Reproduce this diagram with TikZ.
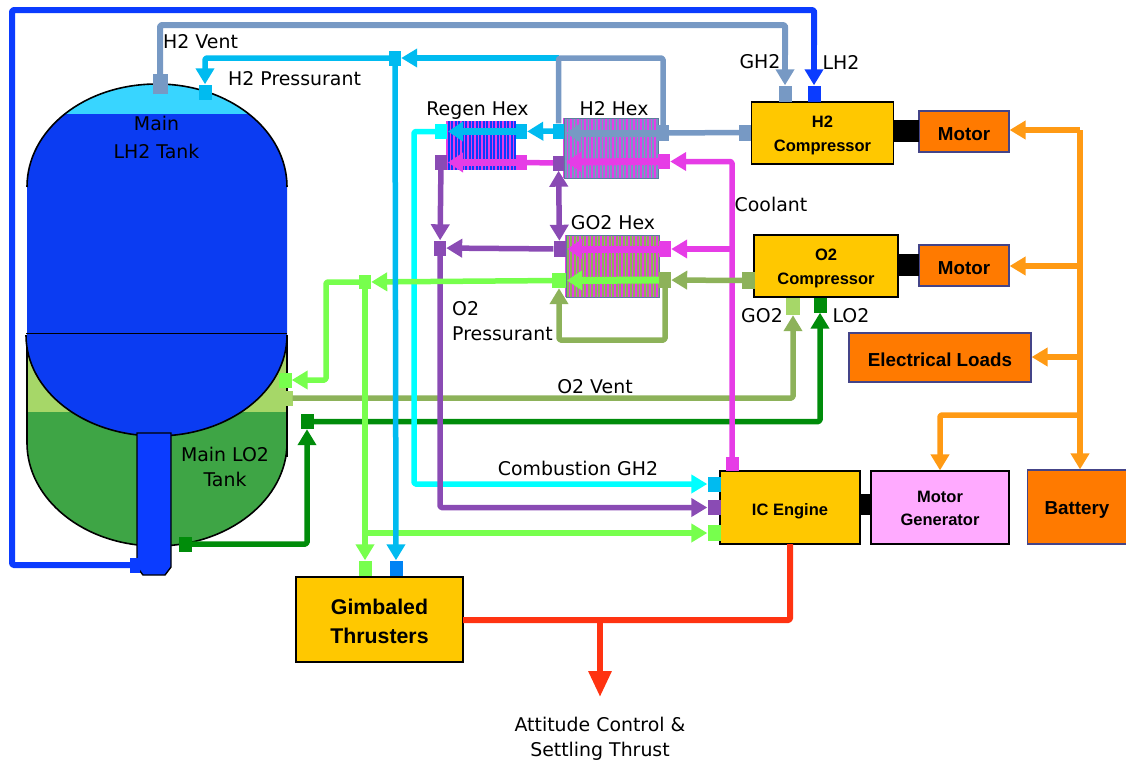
\documentclass[tikz,border=0pt]{standalone}
\usepackage{fontspec}
\setmainfont{DejaVu Sans}
\setsansfont{Liberation Sans}
\usetikzlibrary{arrows.meta}
\definecolor{tankblue}{HTML}{0B3CF2}
\definecolor{gastop}{HTML}{38D5FF}
\definecolor{logreen}{HTML}{3EA545}
\definecolor{lolight}{HTML}{A6D768}
\definecolor{lh}{HTML}{0B3CFF}
\definecolor{gh}{HTML}{7799C4}
\definecolor{hp}{HTML}{00BBF0}
\definecolor{cy}{HTML}{00FFFF}
\definecolor{mg}{HTML}{E63CE6}
\definecolor{pu}{HTML}{8A4BB4}
\definecolor{brg}{HTML}{77FF4D}
\definecolor{og}{HTML}{8DB25A}
\definecolor{dg}{HTML}{008C0A}
\definecolor{orb}{HTML}{FFC800}
\definecolor{ormot}{HTML}{FF7A00}
\definecolor{orl}{HTML}{FF9A14}
\definecolor{redl}{HTML}{FF3311}
\definecolor{pinkb}{HTML}{FFAAFF}
\definecolor{edgeb}{HTML}{444488}
\tikzset{
  pipe/.style={line width=5.5pt,line join=round,rounded corners=1.5pt},
  tip/.style={-{Triangle[width=18pt,length=16pt]}},
  innertip/.style={line width=7pt,-{Triangle[width=19pt,length=15pt]}},
  port/.style={inner sep=0pt,minimum width=12pt,minimum height=15pt,fill=#1},
  yellowbox/.style={draw=black,line width=1.6pt,fill=orb,inner sep=0pt,font=\sffamily\bfseries\fontsize{16.5}{24}\selectfont,align=center},
  orangebox/.style={draw=edgeb,line width=1.2pt,fill=ormot,inner sep=0pt,font=\sffamily\bfseries\fontsize{18.8}{22}\selectfont,align=center},
  label/.style={inner sep=0pt,font=\fontsize{18.9}{25}\selectfont,align=center,text=black},
  shaft/.style={fill=black,inner sep=0pt}
}
\newcommand{\lift}[1]{\rule{0pt}{#1pt}}
\newcommand{\stripes}[7]{% x0 y0 x1 y1 background stripe second-x
  \fill[#5] (#1,#2) rectangle (#3,#4);
  \foreach \sx in {#1,#7,...,#3} \draw[#6,line width=1.7pt] (\sx,#2) -- (\sx,#4);
}
\begin{document}
\begin{tikzpicture}[x=1pt,y=-1pt]
\useasboundingbox (0,0) rectangle (1126,761);
% tanks
\path[fill=logreen] (27,335) -- (27,443) .. controls (27,499) and (84,546) .. (156.5,546) .. controls (229,546) and (287,499) .. (287,443) -- (287,335) -- cycle;
\fill[lolight] (27,335) rectangle (287,412);
\draw[black,line width=1.6pt] (27,335) -- (27,443) .. controls (27,499) and (84,546) .. (156.5,546) .. controls (229,546) and (287,499) .. (287,443);
\draw[black,line width=1.6pt] (287,335) -- (287,457);
\path[fill=tankblue] (27,335) -- (27,187) .. controls (27,130) and (84,84) .. (157,84) .. controls (229,84) and (287,130) .. (287,187) -- (287,335) .. controls (287,391) and (229,436) .. (156.5,436) .. controls (84,436) and (26,391) .. (26,335) -- cycle;
\begin{scope}
\clip (27,187) .. controls (27,130) and (84,84) .. (157,84) .. controls (229,84) and (287,130) .. (287,187) -- cycle;
\fill[gastop] (20,80) rectangle (290,114);
\end{scope}
\draw[black,line width=1.6pt] (27,187) .. controls (27,130) and (84,84) .. (157,84) .. controls (229,84) and (287,130) .. (287,187);
\draw[black,line width=1.6pt] (287,335) .. controls (287,391) and (229,436) .. (156.5,436) .. controls (84,436) and (26,391) .. (26,335);
\draw[black,line width=.8pt] (26,333) -- (287,333);
\path[fill=lh,draw=black,line width=1.4pt] (137,433) -- (171,433) -- (171,567) -- (165,575) -- (143,575) -- (137,567) -- cycle;
% boxes
\node[yellowbox,minimum width=142pt,minimum height=62pt] (h2c) at (822.5,133) {\lift{16}H2\\Compressor};
\node[yellowbox,minimum width=144pt,minimum height=62pt] (o2c) at (826,266) {\lift{16}O2\\Compressor};
\node[orangebox,minimum width=90pt,minimum height=41pt] (m1) at (964,131.5) {\lift{18}Motor};
\node[orangebox,minimum width=90pt,minimum height=41pt] (m2) at (964,265.5) {\lift{18}Motor};
\node[orangebox,minimum width=182pt,minimum height=49pt] (el) at (940,357.5) {\lift{18}Electrical Loads};
\node[orangebox,minimum width=99pt,minimum height=74pt] (bat) at (1077,507) {\lift{19.5}Battery};
\node[yellowbox,minimum width=140pt,minimum height=73pt] (ic) at (790,507.5) {\lift{19}IC Engine};
\node[draw=black,line width=1.2pt,fill=pinkb,inner sep=0pt,minimum width=138pt,minimum height=73pt,align=center,font=\sffamily\bfseries\fontsize{16.5}{23}\selectfont] (mg) at (940,507.5) {\lift{14}Motor\\Generator};
\node[yellowbox,minimum width=167pt,minimum height=85pt,font=\sffamily\bfseries\fontsize{21.3}{29}\selectfont] (gt) at (379.5,619.5) {\lift{19.5}Gimbaled\\Thrusters};
\node[shaft,minimum width=25pt,minimum height=22pt] (s1) at (906.5,131) {};
\node[shaft,minimum width=21pt,minimum height=22pt] (s2) at (908.5,265) {};
\node[shaft,minimum width=11pt,minimum height=21pt] (s3) at (865.5,504.5) {};
% heat exchangers
\stripes{447}{121}{516}{170}{lh}{mg}{450.5}
\stripes{564}{118}{658}{178}{gh}{mg}{567.5}
\stripes{566}{235}{659}{297}{og}{mg}{569.5}
\draw[gh!80!black,line width=.5pt] (564,118) rectangle (658,178);
\draw[gh!80!black,line width=.5pt] (566,235) rectangle (659,297);
% ports
\node[port=gh,minimum height=20pt,minimum width=15pt] (pv) at (160,84) {};
\node[port=hp,minimum height=15pt,minimum width=13pt] (pp) at (205,92) {};
\node[port=lh,minimum width=10pt] (psu) at (135,565) {};
\node[port=hp,minimum width=12pt] (pj) at (395,58) {};
\node[port=gh,minimum width=13pt,minimum height=16pt] (pgh) at (785,93.5) {};
\node[port=lh,minimum width=13pt,minimum height=16pt] (plh) at (814,93.5) {};
\node[port=gh,minimum width=12pt,minimum height=16pt] (pcl) at (745,132.5) {};
\node[port=gh,minimum width=11pt,minimum height=16pt] (phr) at (663,133) {};
\node[port=hp,minimum width=11pt] (phl) at (558.5,131) {};
\node[port=hp,minimum width=11pt] (prr) at (521.5,131.5) {};
\node[port=cy,minimum width=12pt] (prl) at (441,131.5) {};
\node[port=mg,minimum width=12pt] (pcr) at (664,161.5) {};
\node[port=pu,minimum width=11pt] (pcm) at (558.5,163) {};
\node[port=mg,minimum width=11pt] (pmr) at (521.5,162.5) {};
\node[port=pu,minimum width=12pt] (pml) at (441,162.5) {};
\node[port=pu,minimum width=12pt,minimum height=16pt] (pgl) at (559.5,249) {};
\node[port=pu,minimum width=12pt,minimum height=15pt] (pgw) at (440,248) {};
\node[port=mg,minimum width=12pt,minimum height=16pt] (pgc) at (665,249) {};
\node[port=og,minimum width=13pt,minimum height=17pt] (poc) at (748.5,280.5) {};
\node[port=og,minimum width=12pt,minimum height=16pt] (por) at (665,280) {};
\node[port=brg,minimum width=14pt] (pol) at (559,280.5) {};
\node[port=brg,minimum width=12pt,minimum height=14pt] (pgj) at (365,282) {};
\node[port=brg,minimum width=13pt] (ptb) at (285,380) {};
\node[port=lolight,minimum width=13pt] (pvt) at (286,398) {};
\node[port=lolight,minimum width=14pt,minimum height=17pt] (pvc) at (793,306.5) {};
\node[port=dg,minimum width=13pt] (plc) at (820,305) {};
\node[port=dg,minimum width=13pt,minimum height=15pt] (plt) at (185,544) {};
\node[port=dg,minimum width=13pt,minimum height=15pt] (pla) at (307,421.5) {};
\node[port=mg,minimum width=13pt,minimum height=14pt] (pic) at (732,464) {};
\node[port=hp,minimum width=13pt,minimum height=15pt] (pi1) at (714,484) {};
\node[port=pu,minimum width=13pt,minimum height=15pt] (pi2) at (714,507.5) {};
\node[port=brg,minimum width=13pt,minimum height=16pt] (pi3) at (714,533) {};
\node[port=brg,minimum width=13pt,minimum height=15pt] (pt1) at (365,568) {};
\node[port={hp!70!blue},minimum width=13pt,minimum height=15pt] (pt2) at (396,568) {};
% bend points
\coordinate (b1) at (12,565); \coordinate (b2) at (12,10); \coordinate (b3) at (814,10);
\coordinate (b4) at (160,25); \coordinate (b5) at (785,25);
\coordinate (b6) at (205,58);
\coordinate (b7) at (663,58); \coordinate (b8) at (558.5,58);
\coordinate (b9) at (414,131.5); \coordinate (b10) at (414,484);
\coordinate (b11) at (440,507.5);
\coordinate (b12) at (732,161.5); \coordinate (b13) at (732,249);
\coordinate (b14) at (326,282); \coordinate (b15) at (326,380);
\coordinate (b16) at (365,533);
\coordinate (b17) at (665,340); \coordinate (b18) at (559,340);
\coordinate (b19) at (793,398); \coordinate (b20) at (307,544);
\coordinate (b21) at (820,421.5);
\coordinate (hxa) at (566,133); \coordinate (hxb) at (566,162); \coordinate (hxc) at (567,249); \coordinate (hxd) at (567,280.5);
\coordinate (rxa) at (448,131.5); \coordinate (rxb) at (448,162.5);
% red and orange
\coordinate (r1) at (790,620); \coordinate (r2) at (600,620); \coordinate (rt) at (600,697);
\coordinate (ic1) at (790,544); \coordinate (gt1) at (463,620);
\draw[pipe,redl,line width=6pt] (ic1) -- (r1) -- (gt1);
\draw[pipe,redl,line width=6pt,-{Triangle[width=22pt,length=26pt]}] (r2) -- (rt);
\coordinate (o1) at (1080,130); \coordinate (o2) at (1080,266); \coordinate (o3) at (1080,357); \coordinate (o4) at (1080,415); \coordinate (o5) at (940,415);
\draw[pipe,orl,tip] (o1) -- (m1.east |- o1);
\draw[pipe,orl] (o1) -- (o4);
\draw[pipe,orl,tip] (o4) -- (bat.north -| o4);
\draw[pipe,orl,tip] (o2) -- (m2.east |- o2);
\draw[pipe,orl,tip] (o3) -- (el.east |- o3);
\draw[pipe,orl,tip] (o4) -- (o5) -- (mg.north -| o5);
% pipes
\draw[pipe,og,tip] (pvt) -- (pvt -| b19) -- (pvc);
\draw[pipe,dg,tip] (pla) -- (b21) -- (plc);
\draw[pipe,dg,tip] (plt) -- (b20) -- (pla);
\draw[pipe,lh,line width=6pt] (psu) -- (b1) -- (b2) -- (b3) -- ++(0,35);
\draw[pipe,lh,tip] (b3) -- (plh);
\draw[pipe,gh,line width=6pt] (pv) -- (b4) -- (b5) -- ++(0,30);
\draw[pipe,gh,tip] (b5) -- (pgh);
\draw[pipe,mg,tip] (pic) -- (b12) -- (pcr);
\draw[pipe,mg,tip] (b13) -- (pgc);
\draw[pipe,cy,tip] (prl) -- (b9) -- (b10) -- (pi1);
\draw[pipe,pu,tip] (pml) -- (pgw);
\draw[pipe,pu,tip] (pgw) -- (b11) -- (pi2);
\draw[pipe,pu,{Triangle[width=18pt,length=16pt]}-{Triangle[width=18pt,length=16pt]}] (pcm) -- (pgl);
\draw[pipe,pu,tip] (pgl) -- (pgw);
\draw[pipe,mg] (pcm) -- (pmr);
\draw[pipe,brg,tip] (pol) -- (pgj);
\draw[pipe,brg,tip] (pgj) -- (b14) -- (b15) -- (ptb);
\draw[pipe,brg,tip] (pgj) -- (pt1);
\draw[pipe,brg,tip] (b16) -- (pi3);
\draw[pipe,og,tip] (poc) -- (por);
\draw[pipe,og,tip] (por) -- (b17) -- (b18) -- (pol);
\draw[pipe,hp,tip] (phl) -- (prr);
\draw[pipe,hp,tip] (b8) -- (pj);
\draw[pipe,hp,tip] (pj) -- (b6) -- (pp);
\draw[pipe,hp,tip] (pj) -- (pt2);
\draw[pipe,gh] (pcl) -- (phr);
\draw[pipe,gh] (phr) -- (b7) -- (b8) -- (phl);
% inner arrows of heat exchangers
\draw[pipe,gh,innertip] (phr) -- (hxa);
\draw[pipe,mg,innertip] (pcr) -- (hxb);
\draw[pipe,mg,innertip] (pgc) -- (hxc);
\draw[pipe,brg,innertip] (por) -- (hxd);
\draw[pipe,hp,innertip] (prr) -- (rxa);
\draw[pipe,mg,innertip] (pmr) -- (rxb);
% labels
\node[label,font=\fontsize{18.9}{28}\selectfont] (t1) at (156.5,137) {Main\\LH2 Tank};
\node[label] (t2) at (225,467) {Main LO2\\Tank};
\node[label,anchor=west] (t3) at (163,42) {H2 Vent};
\node[label,anchor=west] (t4) at (228,79) {H2 Pressurant};
\node[label] (t5) at (477.5,111) {Regen Hex};
\node[label] (t6) at (614,109) {H2 Hex};
\node[label] (t7) at (613,223) {GO2 Hex};
\node[label] (t8) at (771,204) {Coolant};
\node[label] (t9) at (760,62) {GH2};
\node[label] (t10) at (841,62) {LH2};
\node[label] (t11) at (762,316) {GO2};
\node[label] (t12) at (851,316) {LO2};
\node[label,align=left,anchor=north west] (t13) at (452,301) {O2\\Pressurant};
\node[label] (t14) at (595,387) {O2 Vent};
\node[label] (t15) at (578,468) {Combustion GH2};
\node[label] (t16) at (600,738.5) {Attitude Control \&\\Settling Thrust};
\end{tikzpicture}
\end{document}
